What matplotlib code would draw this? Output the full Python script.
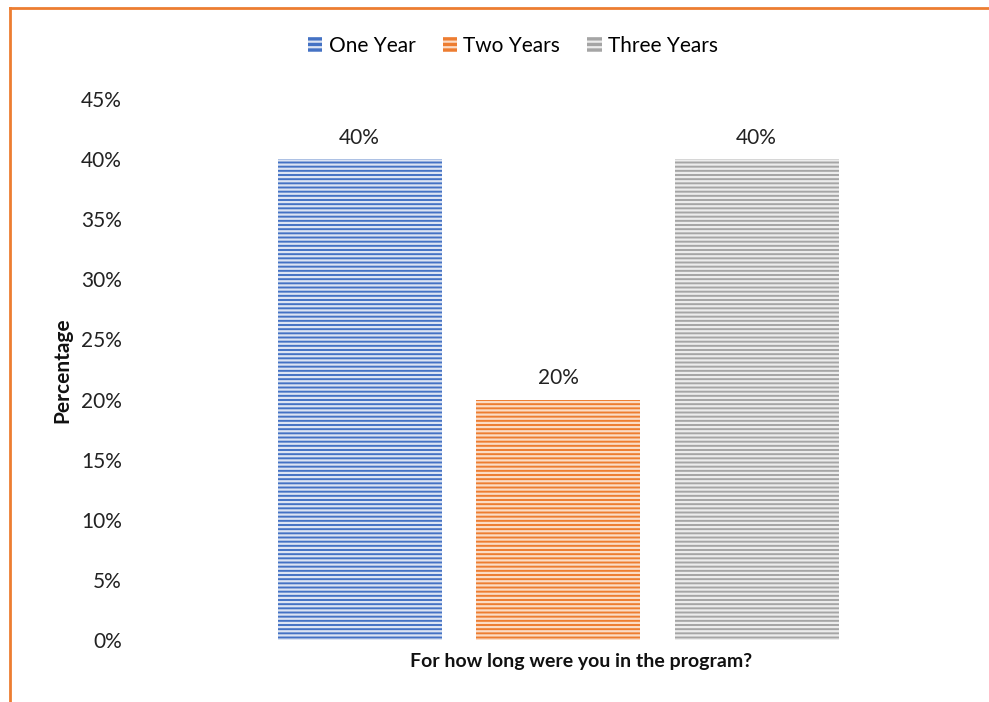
import numpy as np
import matplotlib.pyplot as plt
from matplotlib.patches import Patch
from matplotlib.lines import Line2D

plt.rcParams['font.family'] = ['Lato', 'DejaVu Sans']
plt.rcParams['hatch.linewidth'] = 1.6

series = ['One Year', 'Two Years', 'Three Years']
values = [0.40, 0.20, 0.40]
yticks = [0, 0.05, 0.10, 0.15, 0.20, 0.25, 0.30, 0.35, 0.40, 0.45]

colors = ['#4472C4', '#ED7D31', '#A5A5A5']
stripes = ['#dce4f3', '#fbdcc6', '#ececec']

fig = plt.figure(figsize=(9.89, 7.02), dpi=100)
W, H = 989, 702
ax = fig.add_axes([140/W, 1-640/H, (975-140)/W, (640-99)/H])

x = np.arange(len(series))
for i in range(len(series)):
    ax.bar(x[i], values[i], width=0.826, color=colors[i], edgecolor=stripes[i],
           linewidth=0, hatch='----')
    ax.annotate('%d%%' % round(values[i]*100), (x[i], values[i]),
                xytext=(0, 8), textcoords='offset points',
                ha='center', va='bottom', fontsize=15, color='#222222')

ax.set_xlim(-1.106, 3.1)
ax.set_ylim(0, 0.45)
ax.set_yticks(yticks)
ax.set_yticklabels(['%d%%' % round(v*100) for v in yticks], fontsize=15, color='#222222')
ax.set_xticks([])
ax.tick_params(axis='y', length=0, pad=13)
for s in ax.spines.values():
    s.set_visible(False)

fig.text(581/W, 1-661/H, 'For how long were you in the program?', fontsize=14,
         fontweight='bold', ha='center', va='center', color='#111111')
fig.text(62/W, 1-370/H, 'Percentage', rotation=90, fontsize=15, fontweight='bold',
         ha='center', va='center', color='#111111')

handles = [Patch(facecolor=colors[i], edgecolor=stripes[i], linewidth=0, hatch='---')
           for i in range(len(series))]
fig.legend(handles, series, loc='center', bbox_to_anchor=(513/W, 1-46/H), ncol=3,
           frameon=False, fontsize=15, handlelength=0.7, handleheight=0.7,
           handletextpad=0.3, columnspacing=1.3)

# orange border (top and left)
fig.add_artist(Line2D([10/W, 1], [1-8/H, 1-8/H], color='#ED7D31', lw=2))
fig.add_artist(Line2D([10/W, 10/W], [0, 1-8/H], color='#ED7D31', lw=2))

plt.savefig('out.png', dpi=100)
